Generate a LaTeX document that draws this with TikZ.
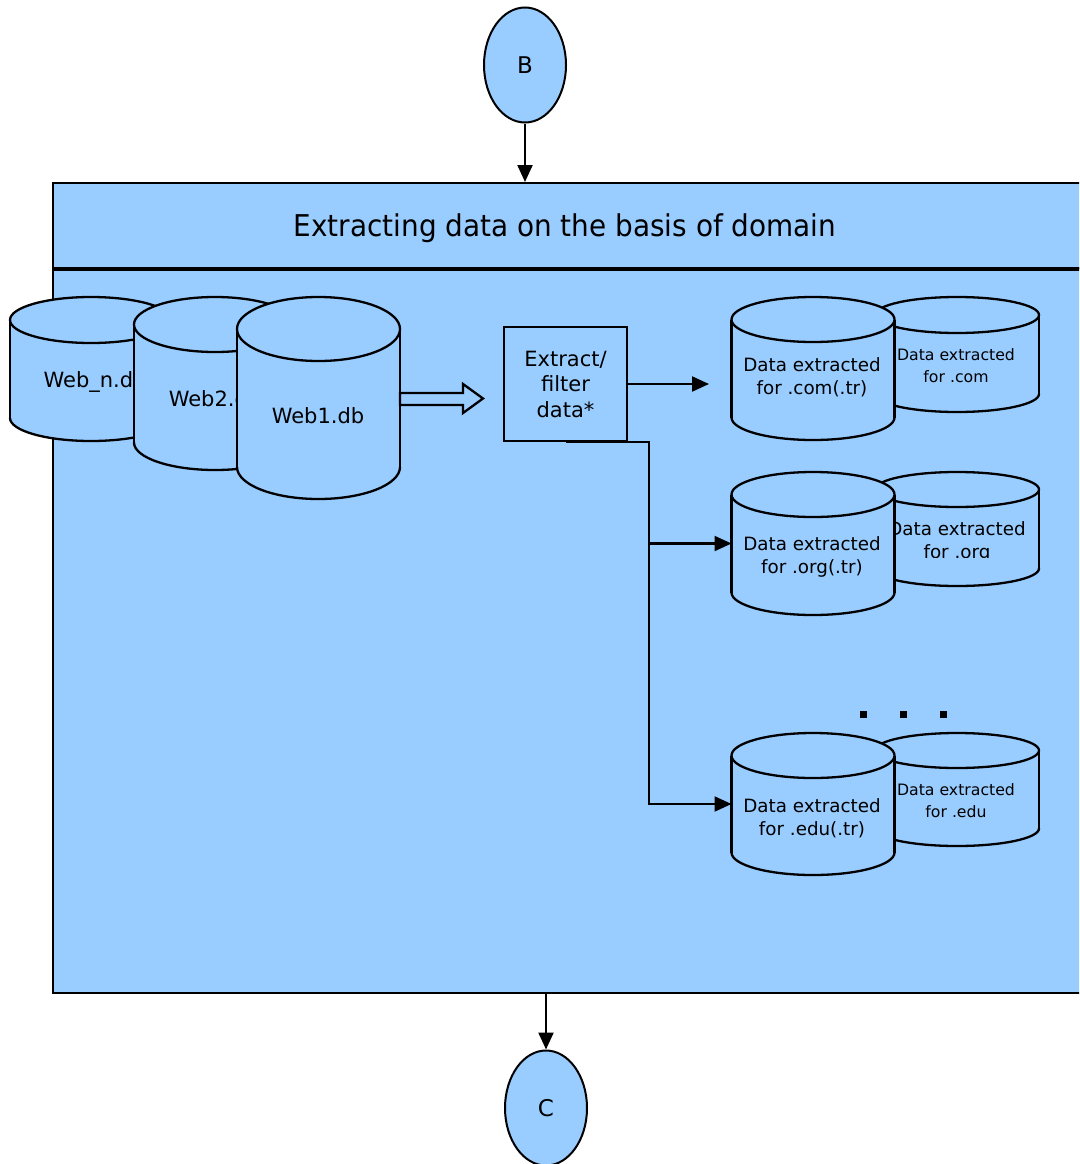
\documentclass[tikz,border=0pt]{standalone}
\usepackage{graphicx}
\usepackage{fontspec}
\setmainfont{DejaVu Sans}
\usetikzlibrary{arrows.meta,shapes.geometric}
\definecolor{dbblue}{RGB}{153,204,255}

\tikzset{
  drumline/.style={draw=black, line width=2.3pt},
  panelbox/.style={rectangle, draw=black, line width=2pt, fill=dbblue, inner sep=0pt},
  procbox/.style={rectangle, draw=black, line width=2.3pt, fill=dbblue, inner sep=0pt,
    align=center, font=\fontsize{21}{25.5}\selectfont},
  flow/.style={draw=black, line width=2.2pt, line join=miter, -{Triangle[length=17pt,width=15pt]}},
  labeltext/.style={font=\fontsize{21}{25}\selectfont, align=center, inner sep=0pt},
  bigtext/.style={font=\fontsize{18.3}{23}\selectfont, align=center, inner sep=0pt},
  smalltext/.style={font=\fontsize{15.7}{22}\selectfont, align=center, inner sep=0pt},
  offpage/.style={ellipse, draw=black, line width=2pt, fill=dbblue, inner sep=0pt,
    minimum width=82pt, minimum height=115pt, font=\fontsize{23}{27}\selectfont},
}

% upright database drum: #1 name, #2 centre x, #3 top ellipse y,
% #4 bottom ellipse y, #5 x radius, #6 y radius
\newcommand{\drumdb}[6]{%
  \fill[dbblue] (#2-#5,#3) rectangle (#2+#5,#4);
  \fill[dbblue] (#2,#4) ellipse [x radius=#5pt, y radius=#6pt];
  \begin{scope}
    \clip (#2-#5-4,#4) rectangle (#2+#5+4,#4+#6+4);
    \draw[drumline] (#2,#4) ellipse [x radius=#5pt, y radius=#6pt];
  \end{scope}
  \draw[drumline] (#2-#5,#3) -- (#2-#5,#4) (#2+#5,#3) -- (#2+#5,#4);
  \draw[drumline, fill=dbblue] (#2,#3) ellipse [x radius=#5pt, y radius=#6pt];
  \coordinate (#1-w) at (#2-#5,{(#3+#4)/2});
  \coordinate (#1-e) at (#2+#5,{(#3+#4)/2});
}

\begin{document}
\begin{tikzpicture}[x=1pt, y=-1pt]
\useasboundingbox (0,0) rectangle (1079,1164);
\clip (0,0) rectangle (1079,1164);

% process frame: title band and body
\node[panelbox, anchor=north west, minimum width=1028pt, minimum height=85pt] (title) at (52,182) {};
\node[panelbox, anchor=north west, minimum width=1028pt, minimum height=725pt] (panel) at (52,267) {};
\draw[line width=3pt] (title.south west) -- (title.south east);
\node[inner sep=0pt, font=\fontsize{30}{34}\selectfont] (titletext) at (565,228)
  {\scalebox{0.93}[1]{Extracting data on the basis of domain}};

% off-page connectors
\node[offpage] (B) at (525,65) {B};
\node[offpage] (C) at (546,1108) {C};
\draw[flow] (B.south) -- (B.south |- title.north);
\draw[flow] (C.north |- panel.south) -- (C.north);

% source databases
\drumdb{webn}{91}{320}{418}{81}{23}
\node[labeltext] (webntext) at (95,382) {Web\_n.db};
\drumdb{webtwo}{215}{324.5}{442.5}{81}{27.5}
\node[labeltext] (webtwotext) at (215,399) {Web2.db};
\drumdb{webone}{318.5}{329}{467}{81.5}{32}
\node[labeltext] (webonetext) at (318,416) {Web1.db};

% hollow block arrow into the filter step
\draw[drumline, fill=dbblue, line join=miter]
  (webone-e |- 0,393) -- (463,393) -- (463,384) -- (483,398.5)
  -- (463,413) -- (463,405) -- (webone-e |- 0,405) -- cycle;

% filter step
\node[procbox, minimum width=123pt, minimum height=114pt] (extract) at (565.5,384)
  {Extract/\\filter\\data*};

% result databases
\drumdb{comR}{957}{315}{394}{82}{18}
\node[smalltext] (comRtext) at (956,366) {Data extracted\\for .com};
\drumdb{comL}{813}{319.5}{417.5}{81.5}{22.5}
\node[bigtext] (comLtext) at (812,377) {Data extracted\\for .com(.tr)};

\drumdb{orgR}{957}{489.5}{568.5}{82}{17.5}
\begin{scope}
  \clip (876,470) rectangle (1038,557);
  \node[bigtext] (orgRtext) at (957,542) {Data extracted\\for .org};
\end{scope}
\drumdb{orgL}{813}{494.5}{592.5}{81.5}{22.5}
\node[bigtext] (orgLtext) at (812,557) {Data extracted\\for .org(.tr)};

\drumdb{eduR}{957}{750.5}{828.5}{82}{17.5}
\node[smalltext] (eduRtext) at (956,801) {Data extracted\\for .edu};
\drumdb{eduL}{813}{755.5}{852.5}{81.5}{22.5}
\node[bigtext] (eduLtext) at (812,818) {Data extracted\\for .edu(.tr)};

% ellipsis between the result groups
\fill (859.5,710.5) rectangle +(7,7);
\fill (899.5,710.5) rectangle +(7,7);
\fill (939.5,710.5) rectangle +(7,7);

% connectors from the filter step
\coordinate (comend) at (709,384);
\coordinate (split) at (649,441);
\draw[flow] (extract.east) -- (comend);
\draw[flow] (extract.south) -- (extract.south -| split) -- (split |- eduL-w) -- (eduL-w);
\draw[flow] (split |- orgL-w) -- (orgL-w);
\end{tikzpicture}
\end{document}
